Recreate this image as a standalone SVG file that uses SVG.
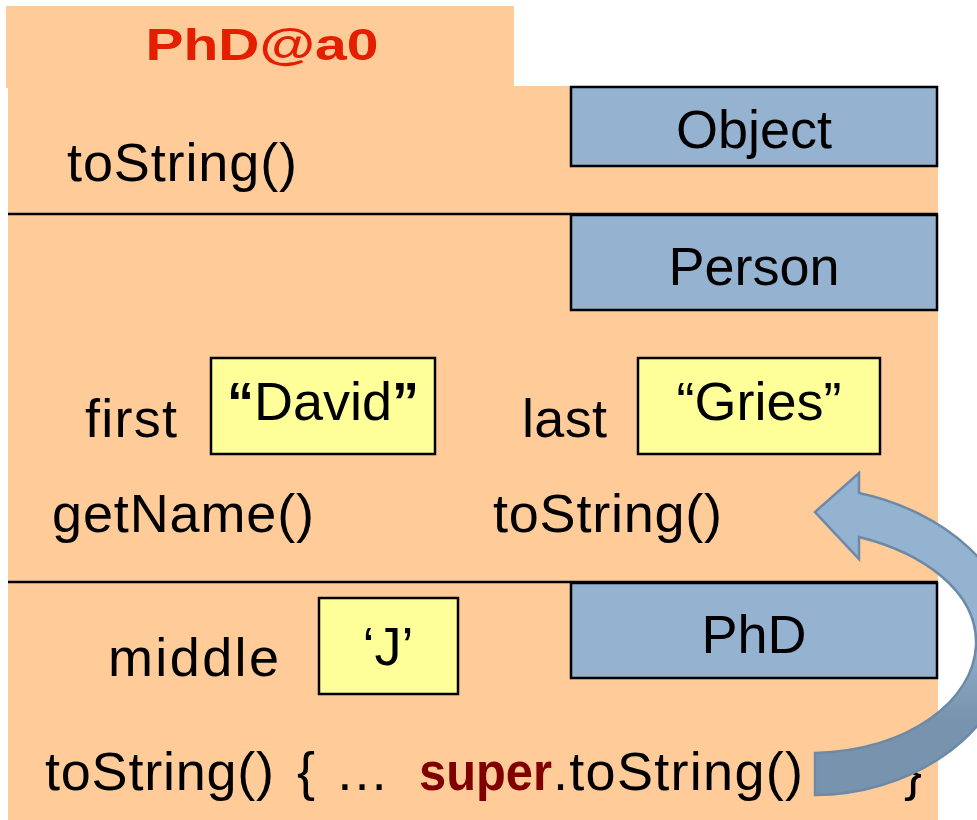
<svg xmlns="http://www.w3.org/2000/svg" width="977" height="820" viewBox="0 0 977 820">
  <defs>
    <style>
      .t { font-family: "Liberation Sans", Arial, sans-serif; font-size: 54px; fill: #000; }
      .c { text-anchor: middle; }
      .cls { fill: #95B3D1; stroke: #000; stroke-width: 2.5; }
      .val { fill: #FFFF99; stroke: #000; stroke-width: 2.5; }
      .sep { stroke: #000; stroke-width: 2.5; }
    </style>
    <linearGradient id="arrowGrad" gradientUnits="userSpaceOnUse" x1="0" y1="630" x2="0" y2="720">
      <stop offset="0" stop-color="#94B3D1"/>
      <stop offset="1" stop-color="#7893AD"/>
    </linearGradient>
  </defs>

  <rect width="977" height="820" fill="#FFFFFF"/>

  <g id="object-frame">
    <rect x="6" y="6" width="508" height="82" fill="#FFCC99"/>
    <rect x="8" y="86" width="930" height="734" fill="#FFCC99"/>
    <text class="t c" x="262" y="60" font-weight="bold" style="fill:#E41E00;font-size:45px" textLength="233" lengthAdjust="spacingAndGlyphs">PhD@a0</text>
    <line class="sep" x1="8" y1="214" x2="938" y2="214"/>
    <line class="sep" x1="8" y1="582" x2="938" y2="582"/>
  </g>

  <g id="object-partition">
    <rect class="cls" x="571" y="87" width="366" height="79"/>
    <text class="t c" x="754" y="148">Object</text>
    <text class="t" x="67" y="181" textLength="230">toString()</text>
  </g>

  <g id="person-partition">
    <rect class="cls" x="571" y="215" width="366" height="95"/>
    <text class="t c" x="754" y="285">Person</text>
    <text class="t" x="85" y="437" textLength="92">first</text>
    <g id="first-value">
      <rect class="val" x="211" y="358" width="224" height="96"/>
      <text class="t c" x="323" y="420"><tspan font-weight="bold">“</tspan>David<tspan font-weight="bold">”</tspan></text>
    </g>
    <text class="t" x="522" y="437" textLength="85">last</text>
    <g id="last-value">
      <rect class="val" x="638" y="358" width="242" height="96"/>
      <text class="t c" x="759" y="420">“Gries”</text>
    </g>
    <text class="t" x="52" y="532" textLength="262">getName()</text>
    <text class="t" x="493" y="532" textLength="229">toString()</text>
  </g>

  <g id="phd-partition">
    <rect class="cls" x="571" y="583" width="366" height="95"/>
    <text class="t c" x="754" y="653">PhD</text>
    <text class="t" x="108" y="676" textLength="171">middle</text>
    <g id="middle-value">
      <rect class="val" x="319" y="598" width="139" height="96"/>
      <text class="t c" x="388" y="665">‘J’</text>
    </g>
    <text class="t" x="45" y="790"><tspan x="45" textLength="229">toString()</tspan><tspan x="297">{</tspan><tspan x="335">…</tspan><tspan x="419" font-weight="bold" style="fill:#800000" textLength="133" lengthAdjust="spacingAndGlyphs">super</tspan><tspan x="553" textLength="250">.toString()</tspan></text>
    <text class="t" x="904" y="790">}</text>
  </g>

  <g id="connectors">
    <path d="M 859,537 C 920,552 978,590 976,645 C 974,700 910,750 815,753 L 815,795 C 905,795 1000,740 1012,650 C 1020,570 940,510 859,493 L 859,473 L 815,512 L 859,559 Z" fill="url(#arrowGrad)" stroke="#6C8AA7" stroke-width="2.5" stroke-linejoin="miter"/>
  </g>
</svg>
